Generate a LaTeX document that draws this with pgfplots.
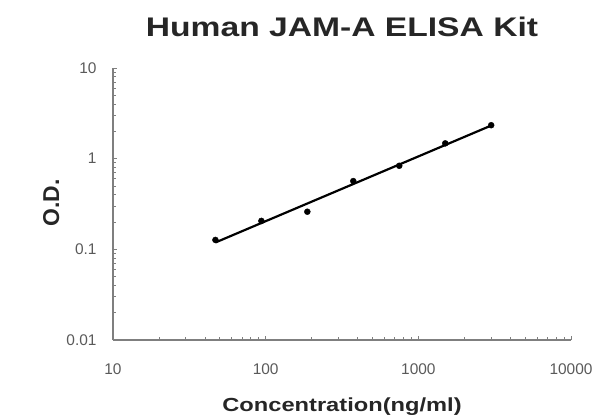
\documentclass[border=0pt]{standalone}
\usepackage{graphicx}
\usepackage{fontspec}
\setmainfont{Liberation Sans}
\usepackage{pgfplots}
\pgfplotsset{compat=1.18}
\definecolor{axisgray}{HTML}{7F7F7F}
\definecolor{labelgray}{HTML}{5A5A5A}
\begin{document}
\begin{tikzpicture}[x=1bp,y=1bp]
  \begin{axis}[
    at={(0,0)}, anchor=south west,
    scale only axis,
    width=458bp, height=272bp,
    xmode=log, ymode=log,
    xmin=10, xmax=10000,
    ymin=0.01, ymax=10,
    axis lines*=left,
    axis line style={axisgray, line width=1.2pt},
    tick style={axisgray, line width=0.8pt},
    tick align=inside,
    major tick length=4bp, minor tick length=3bp,
    xtick={10,100,1000,10000},
    xticklabels={10,100,1000,10000},
    ytick={0.01,0.1,1,10},
    yticklabels={0.01,0.1,1,10},
    /pgf/number format/assume math mode=true,
    ticklabel style={font=\fontsize{15.5}{18}\selectfont, text=labelgray},
    xticklabel style={yshift=-20bp},
    yticklabel style={xshift=-13bp},
    title={\scalebox{1.25}[1]{\bfseries Human JAM-A ELISA Kit}},
    title style={font=\fontsize{27}{30}\selectfont, text=black!85,
      at={(axis description cs:0.5,1)}, anchor=base, yshift=26bp},
    xlabel={\scalebox{1.25}[1]{\bfseries Concentration(ng/ml)}},
    xlabel style={font=\fontsize{19}{22}\selectfont, text=black!85,
      at={(axis description cs:0.5,0)}, anchor=base, yshift=-71bp},
    ylabel={\bfseries O.D.},
    ylabel style={font=\fontsize{23}{26}\selectfont, text=black!85,
      at={(axis description cs:-0.135,0.505)}, anchor=center},
    clip=false,
  ]
  % standard curve fit (power law through the points)
  \addplot[black, line width=2.2pt, no marks] coordinates {
    (46.875,0.119) (3000,2.32)
  };
  \addplot[only marks, mark=*, mark size=3bp, black] coordinates {
    (46.875,0.127) (93.75,0.206) (187.5,0.26) (375,0.566)
    (750,0.835) (1500,1.475) (3000,2.34)
  };
  \end{axis}
  \pgfresetboundingbox
  \path[use as bounding box] (-113,-77) rectangle (483,340);
\end{tikzpicture}
\end{document}
